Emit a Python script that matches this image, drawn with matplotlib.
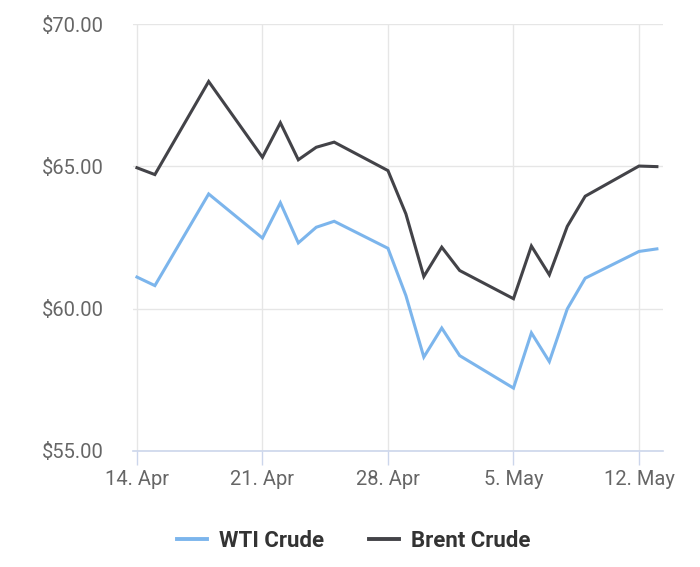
import datetime as dt
import matplotlib
matplotlib.use('Agg')
import matplotlib.pyplot as plt
import matplotlib.dates as mdates
from matplotlib.lines import Line2D
from matplotlib.ticker import FuncFormatter

plt.rcParams['font.family'] = ['Roboto', 'DejaVu Sans']

dates = ['2025-04-14', '2025-04-15', '2025-04-18', '2025-04-21', '2025-04-22',
         '2025-04-23', '2025-04-24', '2025-04-25', '2025-04-28', '2025-04-29',
         '2025-04-30', '2025-05-01', '2025-05-02', '2025-05-05', '2025-05-06',
         '2025-05-07', '2025-05-08', '2025-05-09', '2025-05-12', '2025-05-13']
wti = [61.11, 60.81, 64.03, 62.48, 63.72, 62.31, 62.86, 63.07, 62.12, 60.46,
       58.30, 59.32, 58.35, 57.21, 59.15, 58.14, 59.99, 61.07, 62.01, 62.10]
brent = [64.95, 64.71, 67.98, 65.32, 66.53, 65.23, 65.67, 65.85, 64.85, 63.33,
         61.13, 62.16, 61.34, 60.35, 62.20, 61.19, 62.89, 63.95, 65.01, 64.99]
tick_dates = ['2025-04-14', '2025-04-21', '2025-04-28', '2025-05-05', '2025-05-12']
y_ticks = [55, 60, 65, 70]

x = [dt.datetime.strptime(d, '%Y-%m-%d') for d in dates]
xt = [dt.datetime.strptime(d, '%Y-%m-%d') for d in tick_dates]

fig = plt.figure(figsize=(7, 5.67), dpi=100)
ax = fig.add_axes([133 / 700, 116 / 567, 530 / 700, 427 / 567])

wti_color = '#7cb5ec'
brent_color = '#434348'
ax.plot(x, wti, color=wti_color, lw=2.2, solid_joinstyle='miter', zorder=3)
ax.plot(x, brent, color=brent_color, lw=2.2, solid_joinstyle='miter', zorder=3)

x0 = x[0] - dt.timedelta(days=0.22)
x1 = x[-1] + dt.timedelta(days=0.34)
ax.set_xlim(x0, x1)
ax.set_ylim(55, 70)

ax.set_xticks(xt)
ax.xaxis.set_major_formatter(FuncFormatter(
    lambda v, p: '%d. %s' % (mdates.num2date(v).day, mdates.num2date(v).strftime('%b'))))
ax.set_yticks(y_ticks)
ax.yaxis.set_major_formatter(FuncFormatter(lambda v, p: '$%.2f' % v))

ax.grid(True, color='#e6e6e6', lw=1)
ax.set_axisbelow(True)
for s in ['top', 'right', 'left']:
    ax.spines[s].set_visible(False)
ax.spines['bottom'].set_color('#ccd6eb')
ax.spines['bottom'].set_linewidth(1.2)

ax.tick_params(axis='x', length=10, width=1, color='#ccd6eb', labelsize=14.5,
               labelcolor='#666666', pad=4)
ax.tick_params(axis='y', length=0, labelsize=14.5, labelcolor='#666666', pad=21)

handles = [Line2D([], [], color=wti_color, lw=2.8),
           Line2D([], [], color=brent_color, lw=2.8)]
leg = fig.legend(handles, ['WTI Crude', 'Brent Crude'], loc='center',
                 bbox_to_anchor=(0.505, 1 - 541 / 567), ncol=2, frameon=False,
                 handlelength=1.35, handletextpad=0.55, columnspacing=2.0,
                 prop={'weight': 'bold', 'size': 16})
for t in leg.get_texts():
    t.set_color('#333333')

fig.savefig('out.png', dpi=100)
